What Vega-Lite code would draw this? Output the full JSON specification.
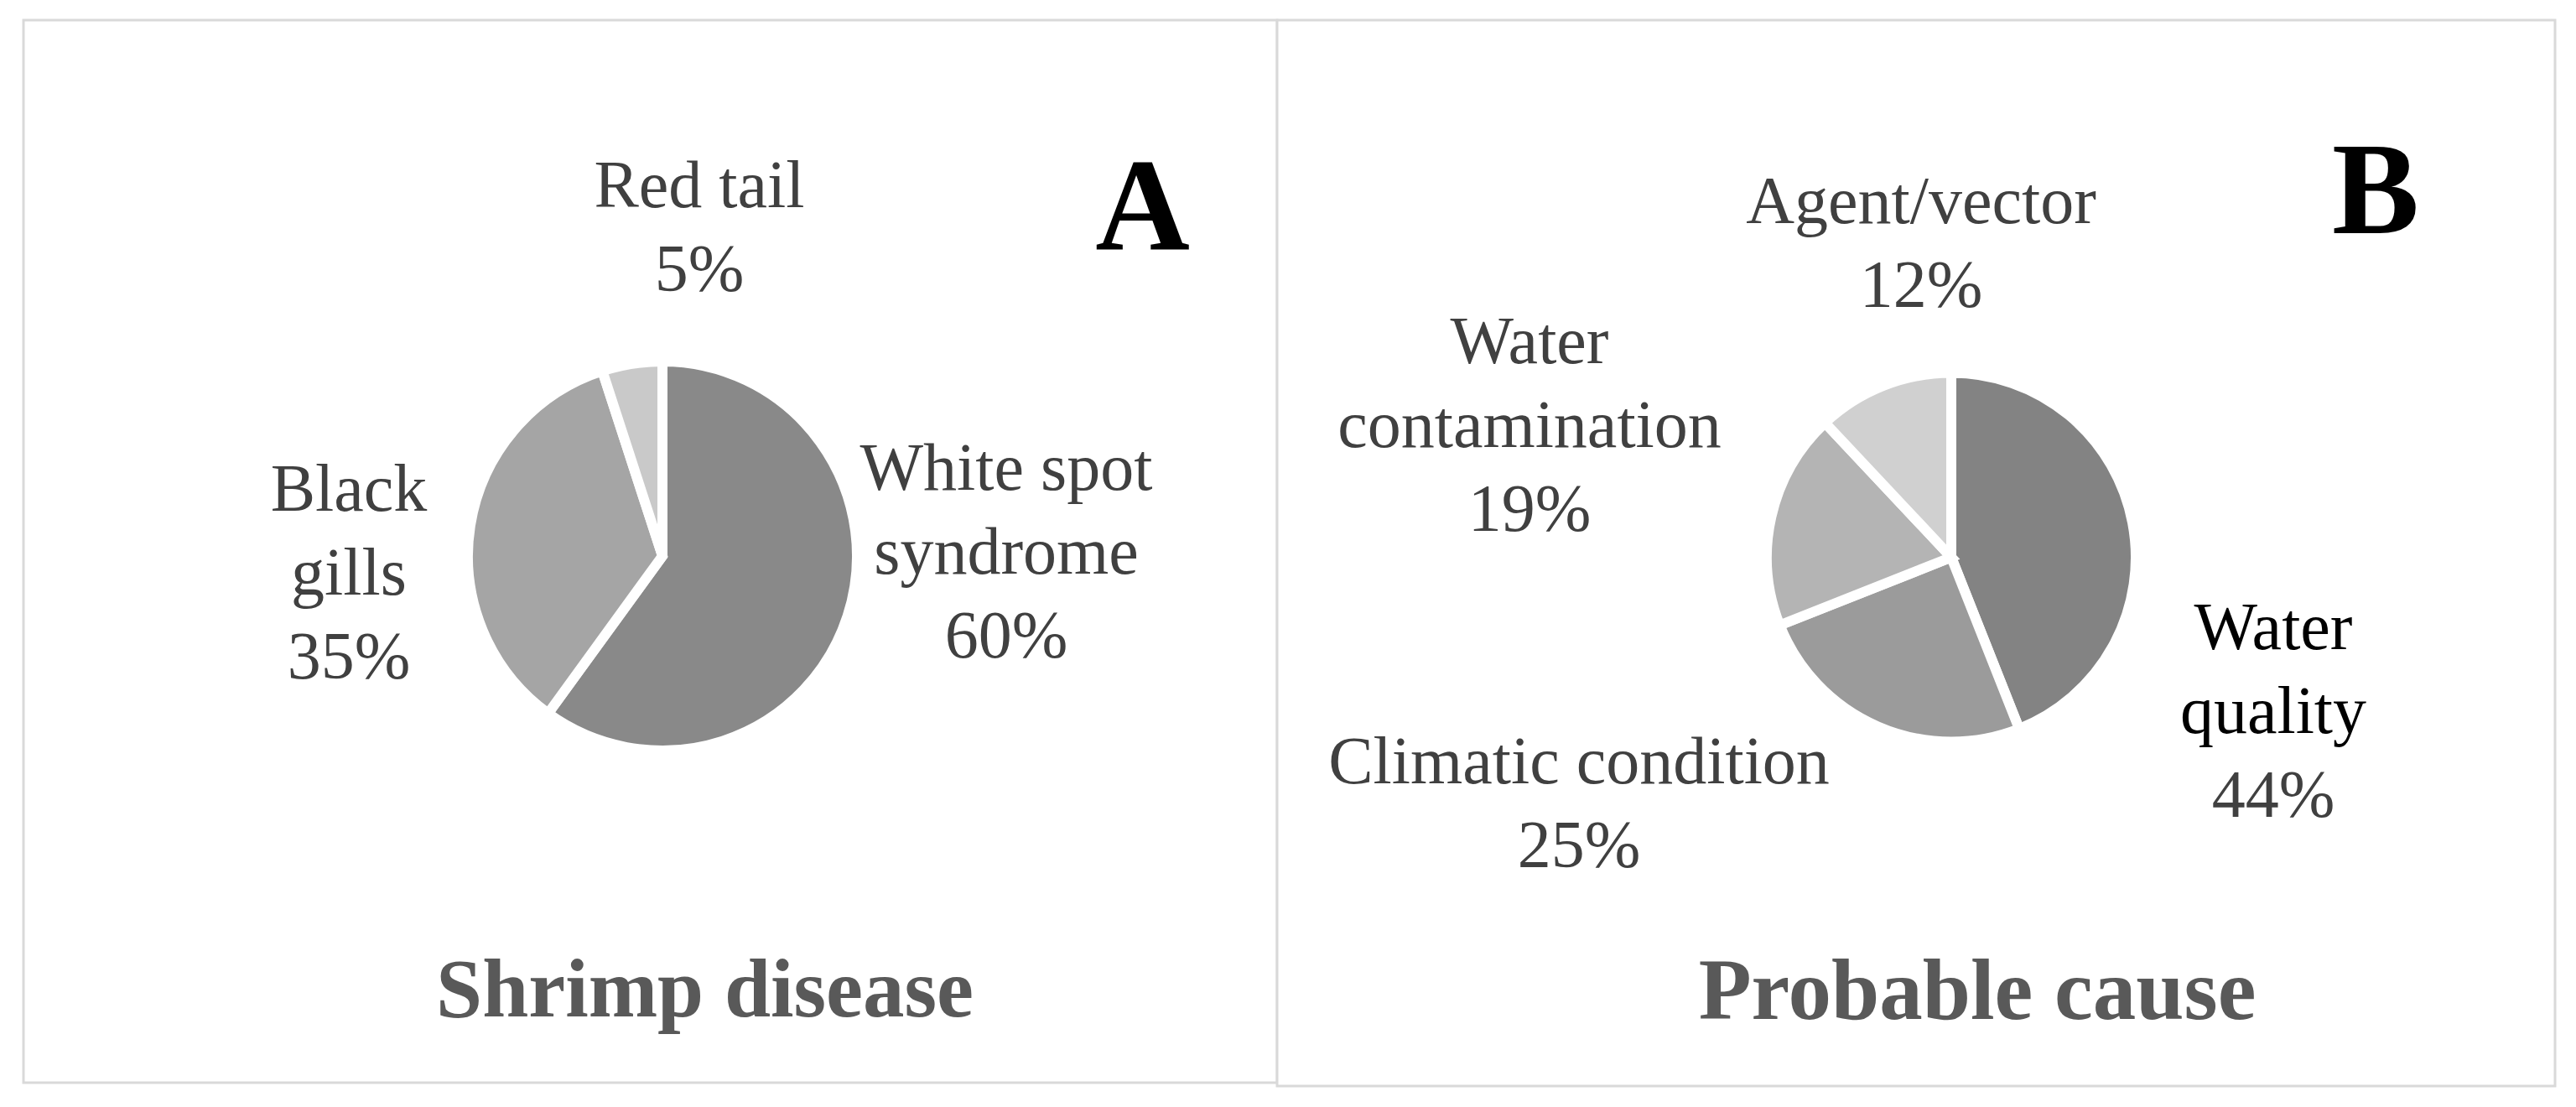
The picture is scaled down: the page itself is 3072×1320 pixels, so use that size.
{
  "$schema": "https://vega.github.io/schema/vega-lite/v6.json",
  "background": "white",
  "padding": {"left": 26, "top": 22, "right": 0, "bottom": 0},
  "spacing": 0,
  "bounds": "flush",
  "resolve": {"scale": {"color": "independent", "theta": "independent"}},
  "config": {
    "view": {"stroke": "#d9d9d9", "strokeWidth": 3},
    "text": {"font": "Liberation Serif", "fontSize": 80, "color": "#404040", "align": "center"},
    "title": {"font": "Liberation Serif"}
  },
  "hconcat": [
    {
      "width": 1495,
      "height": 1267,
      "view": {"stroke": "#d9d9d9", "strokeWidth": 3, "fill": "white"},
      "title": {"text": "Shrimp disease", "orient": "bottom", "anchor": "middle", "offset": -157, "dx": 65, "fontSize": 99, "fontWeight": "bold", "color": "#595959", "font": "Liberation Serif"},
      "data": {"values": [
        {"disease": "White spot syndrome", "label": "White spot\nsyndrome", "share": 0.60, "rank": 1},
        {"disease": "Black gills", "label": "Black\ngills", "share": 0.35, "rank": 2},
        {"disease": "Red tail", "label": "Red tail", "share": 0.05, "rank": 3}
      ]},
      "layer": [
        {
          "mark": {"type": "arc", "outerRadius": 232, "stroke": "white", "strokeWidth": 12, "xOffset": 14.5, "yOffset": 5.5},
          "encoding": {
            "theta": {"field": "share", "type": "quantitative", "stack": true},
            "order": {"field": "rank", "type": "quantitative"},
            "color": {"field": "disease", "type": "nominal", "legend": null,
              "scale": {"domain": ["White spot syndrome", "Black gills", "Red tail"], "range": ["#898989", "#a5a5a5", "#c9c9c9"]}}
          }
        },
        {
          "transform": [{"filter": "datum.disease === 'White spot syndrome'"}],
          "mark": {"type": "text", "xOffset": 14.5, "yOffset": 5.5, "dx": 410, "dy": -142, "baseline": "top", "lineBreak": "\n", "lineHeight": 100},
          "encoding": {"text": {"field": "label", "type": "nominal"}}
        },
        {
          "transform": [{"filter": "datum.disease === 'White spot syndrome'"}],
          "mark": {"type": "text", "xOffset": 14.5, "yOffset": 5.5, "dx": 410, "dy": 121, "baseline": "alphabetic"},
          "encoding": {"text": {"field": "share", "type": "quantitative", "format": ".0%"}}
        },
        {
          "transform": [{"filter": "datum.disease === 'Black gills'"}],
          "mark": {"type": "text", "xOffset": 14.5, "yOffset": 5.5, "dx": -374, "dy": -117, "baseline": "top", "lineBreak": "\n", "lineHeight": 100},
          "encoding": {"text": {"field": "label", "type": "nominal"}}
        },
        {
          "transform": [{"filter": "datum.disease === 'Black gills'"}],
          "mark": {"type": "text", "xOffset": 14.5, "yOffset": 5.5, "dx": -374, "dy": 146, "baseline": "alphabetic"},
          "encoding": {"text": {"field": "share", "type": "quantitative", "format": ".0%"}}
        },
        {
          "transform": [{"filter": "datum.disease === 'Red tail'"}],
          "mark": {"type": "text", "xOffset": 14.5, "yOffset": 5.5, "dx": 44, "dy": -479, "baseline": "top", "lineBreak": "\n", "lineHeight": 100},
          "encoding": {"text": {"field": "label", "type": "nominal"}}
        },
        {
          "transform": [{"filter": "datum.disease === 'Red tail'"}],
          "mark": {"type": "text", "xOffset": 14.5, "yOffset": 5.5, "dx": 44, "dy": -316, "baseline": "alphabetic"},
          "encoding": {"text": {"field": "share", "type": "quantitative", "format": ".0%"}}
        },
        {
          "data": {"values": [{"panel": "A"}]},
          "mark": {"type": "text", "fontSize": 156, "fontWeight": "bold", "color": "black", "align": "right", "baseline": "alphabetic", "dx": 643.5, "dy": -360.5},
          "encoding": {"text": {"field": "panel", "type": "nominal"}}
        }
      ]
    },
    {
      "width": 1524,
      "height": 1271,
      "view": {"stroke": "#d9d9d9", "strokeWidth": 3, "fill": "white"},
      "title": {"text": "Probable cause", "orient": "bottom", "anchor": "middle", "offset": -161, "dx": 73, "fontSize": 103, "fontWeight": "bold", "color": "#595959", "font": "Liberation Serif"},
      "data": {"values": [
        {"cause": "Water quality", "label": "Water\nquality", "share": 0.44, "rank": 1},
        {"cause": "Climatic condition", "label": "Climatic condition", "share": 0.25, "rank": 2},
        {"cause": "Water contamination", "label": "Water\ncontamination", "share": 0.19, "rank": 3},
        {"cause": "Agent/vector", "label": "Agent/vector", "share": 0.12, "rank": 4}
      ]},
      "layer": [
        {
          "mark": {"type": "arc", "outerRadius": 220, "stroke": "white", "strokeWidth": 12, "xOffset": 42, "yOffset": 5},
          "encoding": {
            "theta": {"field": "share", "type": "quantitative", "stack": true},
            "order": {"field": "rank", "type": "quantitative"},
            "color": {"field": "cause", "type": "nominal", "legend": null,
              "scale": {"domain": ["Water quality", "Climatic condition", "Water contamination", "Agent/vector"], "range": ["#838383", "#9b9b9b", "#b4b4b4", "#d0d0d0"]}}
          }
        },
        {
          "transform": [{"filter": "datum.cause === 'Water quality'"}],
          "mark": {"type": "text", "xOffset": 42, "yOffset": 5, "dx": 384, "dy": 46.5, "baseline": "top", "lineBreak": "\n", "lineHeight": 100, "color": "#000000"},
          "encoding": {"text": {"field": "label", "type": "nominal"}}
        },
        {
          "transform": [{"filter": "datum.cause === 'Water quality'"}],
          "mark": {"type": "text", "xOffset": 42, "yOffset": 5, "dx": 384, "dy": 309.5, "baseline": "alphabetic"},
          "encoding": {"text": {"field": "share", "type": "quantitative", "format": ".0%"}}
        },
        {
          "transform": [{"filter": "datum.cause === 'Climatic condition'"}],
          "mark": {"type": "text", "xOffset": 42, "yOffset": 5, "dx": -444, "dy": 206.5, "baseline": "top", "lineBreak": "\n", "lineHeight": 100},
          "encoding": {"text": {"field": "label", "type": "nominal"}}
        },
        {
          "transform": [{"filter": "datum.cause === 'Climatic condition'"}],
          "mark": {"type": "text", "xOffset": 42, "yOffset": 5, "dx": -444, "dy": 369.5, "baseline": "alphabetic"},
          "encoding": {"text": {"field": "share", "type": "quantitative", "format": ".0%"}}
        },
        {
          "transform": [{"filter": "datum.cause === 'Water contamination'"}],
          "mark": {"type": "text", "xOffset": 42, "yOffset": 5, "dx": -503, "dy": -294.5, "baseline": "top", "lineBreak": "\n", "lineHeight": 100},
          "encoding": {"text": {"field": "label", "type": "nominal"}}
        },
        {
          "transform": [{"filter": "datum.cause === 'Water contamination'"}],
          "mark": {"type": "text", "xOffset": 42, "yOffset": 5, "dx": -503, "dy": -31.5, "baseline": "alphabetic"},
          "encoding": {"text": {"field": "share", "type": "quantitative", "format": ".0%"}}
        },
        {
          "transform": [{"filter": "datum.cause === 'Agent/vector'"}],
          "mark": {"type": "text", "xOffset": 42, "yOffset": 5, "dx": -36, "dy": -461.5, "baseline": "top", "lineBreak": "\n", "lineHeight": 100},
          "encoding": {"text": {"field": "label", "type": "nominal"}}
        },
        {
          "transform": [{"filter": "datum.cause === 'Agent/vector'"}],
          "mark": {"type": "text", "xOffset": 42, "yOffset": 5, "dx": -36, "dy": -298.5, "baseline": "alphabetic"},
          "encoding": {"text": {"field": "share", "type": "quantitative", "format": ".0%"}}
        },
        {
          "data": {"values": [{"panel": "B"}]},
          "mark": {"type": "text", "fontSize": 156, "fontWeight": "bold", "color": "black", "align": "right", "baseline": "alphabetic", "dx": 600, "dy": -381.5},
          "encoding": {"text": {"field": "panel", "type": "nominal"}}
        }
      ]
    }
  ]
}
